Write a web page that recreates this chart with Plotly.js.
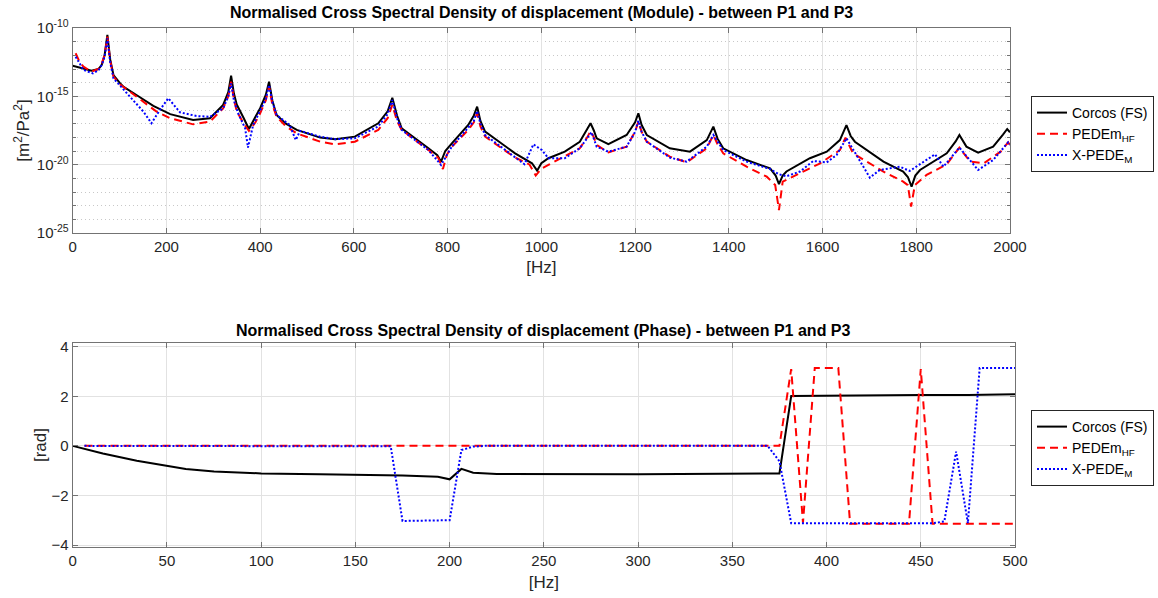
<!DOCTYPE html>
<html>
<head>
<meta charset="utf-8">
<script src="https://cdn.plot.ly/plotly-3.0.1.min.js"></script>
<style>html,body{margin:0;padding:0;background:#fff;}#chart{width:1158px;height:598px;}</style>
</head>
<body>
<div id="chart"></div>
<script>
// ---------- Module (top) : frequencies [Hz] and log10 of the CSD [m^2/Pa^2] ----------
const modCorcosHz = [0,20,40,55,62,68,74,80,87,100,108,136,172,208,236,257,293,321,332,338,344,350,365,376,390,400,412,419,426,435,455,478,528,560,602,652,672,682,692,702,759,778,786,795,809,844,856,863,870,880,944,980,991,1000,1015,1050,1082,1098,1105,1112,1118,1143,1182,1200,1207,1214,1225,1274,1317,1353,1367,1376,1388,1438,1488,1500,1507,1515,1523,1573,1609,1637,1651,1660,1669,1730,1772,1782,1790,1798,1808,1865,1884,1892,1900,1907,1932,1964,1985,1994,2000];
const modCorcosLog = [-12.76,-12.95,-13.12,-13.0,-12.7,-12.0,-10.5,-12.3,-13.44,-14.0,-14.29,-14.9,-15.7,-16.3,-16.53,-16.73,-16.6,-15.63,-14.7,-13.49,-14.8,-15.6,-16.6,-17.39,-16.5,-15.87,-14.9,-13.93,-15.3,-16.36,-17.0,-17.46,-18.02,-18.14,-17.95,-16.97,-16.1,-15.1,-16.4,-17.34,-18.8,-19.3,-19.78,-19.0,-18.44,-17.1,-16.4,-15.76,-16.8,-17.58,-19.17,-19.9,-20.44,-19.9,-19.53,-19.05,-18.32,-17.4,-16.97,-17.5,-18.07,-18.5,-17.83,-16.9,-16.24,-17.1,-17.83,-18.8,-19.05,-18.2,-17.22,-18.1,-18.8,-19.66,-20.27,-20.8,-21.43,-20.8,-20.5,-19.53,-19.05,-18.2,-17.1,-17.9,-18.32,-19.78,-20.51,-20.9,-21.61,-20.8,-20.39,-19.17,-18.3,-17.83,-18.3,-18.68,-19.12,-18.68,-17.8,-17.39,-17.63];

const modPedemHz = [6.25,15,23,40,55,62,68,74,80,87,100,136,179,208,257,293,321,332,338,344,350,365,376,390,400,412,419,426,435,455,478,528,560,602,652,672,682,692,702,759,780,790,798,809,844,856,863,870,880,944,975,988,1000,1015,1050,1082,1098,1105,1112,1118,1143,1182,1200,1207,1214,1225,1274,1310,1353,1367,1376,1388,1438,1481,1499,1507,1515,1537,1573,1595,1637,1649,1665,1694,1730,1772,1782,1789,1797,1822,1865,1892,1915,1944,1980,1996,2000];
const modPedemLog = [-11.85,-12.5,-12.83,-13.19,-13.0,-12.6,-12.0,-10.63,-12.4,-13.56,-14.1,-15.02,-16.12,-16.6,-17.05,-16.85,-15.88,-15.0,-13.93,-15.2,-16.1,-17.0,-17.53,-16.9,-16.24,-15.3,-14.29,-15.6,-16.49,-17.2,-17.71,-18.32,-18.51,-18.32,-17.46,-16.6,-15.63,-16.8,-17.46,-18.93,-19.5,-20.32,-19.3,-18.68,-17.46,-16.9,-16.24,-17.2,-17.95,-19.48,-20.0,-20.8,-20.3,-20.02,-19.41,-18.8,-18.0,-17.53,-18.0,-18.56,-19.1,-18.68,-17.6,-16.85,-17.6,-18.32,-19.41,-19.83,-18.8,-17.83,-18.5,-19.17,-20.15,-20.88,-21.49,-23.32,-21.24,-20.88,-20.27,-19.9,-18.93,-18.02,-19.17,-19.78,-20.51,-21.24,-21.5,-23.07,-21.49,-20.75,-19.97,-18.75,-19.78,-19.9,-19.05,-18.37,-18.56];

const modXpedeHz = [6.25,15,23,43,55,62,68,74,80,87,100,122,151,168,186,204,229,264,293,321,332,338,344,353,368,374,385,404,412,419,426,435,463,476,485,528,560,602,652,672,682,692,702,759,786,809,844,856,863,870,880,944,964,983,1001,1015,1050,1082,1100,1107,1113,1118,1143,1182,1200,1207,1214,1225,1274,1310,1353,1367,1388,1438,1488,1507,1523,1552,1580,1609,1630,1651,1701,1722,1765,1786,1840,1858,1892,1932,1964,1996,2000];
const modXpedeLog = [-12.1,-12.6,-13.07,-13.32,-13.1,-12.7,-12.1,-10.76,-12.5,-13.68,-14.2,-15.02,-16.12,-16.97,-16.0,-15.14,-16.17,-16.44,-16.5,-15.88,-15.0,-14.05,-15.3,-16.24,-17.34,-18.75,-17.1,-15.76,-15.2,-14.17,-15.4,-16.36,-17.1,-18.2,-17.53,-17.95,-18.14,-18.07,-17.2,-16.3,-15.27,-16.6,-17.46,-18.93,-20.02,-18.68,-17.34,-16.8,-16.07,-17.0,-17.83,-19.41,-19.97,-18.51,-18.93,-19.53,-19.53,-18.8,-18.0,-17.63,-18.2,-18.68,-19.05,-18.68,-17.6,-16.79,-17.6,-18.32,-19.48,-19.78,-18.68,-17.83,-18.93,-19.78,-20.32,-20.7,-20.85,-20.5,-19.73,-19.83,-19.29,-18.07,-20.95,-20.39,-20.15,-20.46,-19.24,-20.15,-18.75,-20.39,-19.66,-18.37,-18.56];

// ---------- Phase (bottom) : frequencies [Hz] and phase [rad] ----------
const phCorcosHz = [0,16,34,50,60,75,87,100,131,150,175,193.75,200,206.25,212.5,225,300,375,381.25,450,462.5,468.75,475,500];
const phCorcos = [0,-0.31,-0.6,-0.81,-0.93,-1.03,-1.08,-1.11,-1.15,-1.17,-1.2,-1.25,-1.35,-0.93,-1.08,-1.13,-1.14,-1.11,2.01,2.05,2.05,2.03,2.05,2.08];

const phPedemHz = [6.25,375,381.25,387.5,393.75,406.25,412.5,443.75,450,456.25,500];
const phPedem = [0,0,3.1,-3.1,3.14,3.14,-3.14,-3.14,3.1,-3.14,-3.14];

const phXpedeHz = [6.25,162.5,168.75,175,200,206.25,212.5,218.75,368.75,375,381.25,456.25,462.5,468.75,475,481.25,500];
const phXpede = [0,0,-0.02,-3.03,-3.0,-0.17,-0.03,0,0,-0.62,-3.12,-3.12,-3.05,-0.23,-3.12,3.14,3.14];

// ---------- labels ----------
const seriesNames = ['Corcos (FS)', 'PEDEm<sub>HF</sub>', 'X-PEDE<sub>M</sub>'];
const yMajorTicks = [1e-25, 1e-20, 1e-15, 1e-10];
const yMajorText = ['10<sup>-25</sup>', '10<sup>-20</sup>', '10<sup>-15</sup>', '10<sup>-10</sup>'];
const yMinorTicks = [1e-24,1e-23,1e-22,1e-21,1e-19,1e-18,1e-17,1e-16,1e-14,1e-13,1e-12,1e-11];

const toLin = a => a.map(e => Math.pow(10, e));

const styles = [
  {color: '#000000', width: 2, dash: 'solid'},
  {color: '#ff0000', width: 2, dash: '8px,5px'},
  {color: '#0000ff', width: 2, dash: '2px,2px'}
];

const traces = [
  {x: modCorcosHz, y: toLin(modCorcosLog), name: seriesNames[0], line: styles[0], xaxis: 'x', yaxis: 'y', legend: 'legend'},
  {x: modPedemHz, y: toLin(modPedemLog), name: seriesNames[1], line: styles[1], xaxis: 'x', yaxis: 'y', legend: 'legend'},
  {x: modXpedeHz, y: toLin(modXpedeLog), name: seriesNames[2], line: styles[2], xaxis: 'x', yaxis: 'y', legend: 'legend'},
  {x: phCorcosHz, y: phCorcos, name: seriesNames[0], line: styles[0], xaxis: 'x2', yaxis: 'y2', legend: 'legend2'},
  {x: phPedemHz, y: phPedem, name: seriesNames[1], line: styles[1], xaxis: 'x2', yaxis: 'y2', legend: 'legend2'},
  {x: phXpedeHz, y: phXpede, name: seriesNames[2], line: styles[2], xaxis: 'x2', yaxis: 'y2', legend: 'legend2'}
].map(t => Object.assign({type: 'scatter', mode: 'lines', hoverinfo: 'skip'}, t));

const W = 1158, H = 598;
const FAM = 'Arial, "Liberation Sans", sans-serif';
const tickFont = {family: FAM, size: 15, color: '#262626'};
const axTitleFont = {family: FAM, size: 17, color: '#262626'};
const axisCommon = {
  showline: true, linecolor: '#737373', linewidth: 1, mirror: 'ticks',
  ticks: 'inside', ticklen: 5, tickcolor: '#737373', tickwidth: 1,
  showgrid: true, gridcolor: '#e2e2e2', gridwidth: 1, zeroline: false,
  tickfont: tickFont, fixedrange: true
};
const legendCommon = {
  x: 1031 / W, xanchor: 'left', yanchor: 'top',
  bgcolor: '#ffffff', bordercolor: '#262626', borderwidth: 1,
  font: {family: FAM, size: 14, color: '#000'},
  tracegroupgap: 0, itemwidth: 30
};
const titleFont = {family: FAM, size: 16, color: '#000', weight: 'bold'};

const layout = {
  width: W, height: H,
  margin: {l: 0, r: 0, t: 0, b: 0},
  paper_bgcolor: '#ffffff', plot_bgcolor: '#ffffff',
  showlegend: true,
  xaxis: Object.assign({}, axisCommon, {
    domain: [72.7 / W, 1010 / W], range: [0, 2000], dtick: 200, tick0: 0, anchor: 'y',
    title: {text: '[Hz]', font: axTitleFont, standoff: 7}
  }),
  yaxis: Object.assign({}, axisCommon, {
    domain: [1 - 233 / H, 1 - 28 / H], type: 'log', range: [-25, -10], anchor: 'x',
    tickmode: 'array', tickvals: yMajorTicks, ticktext: yMajorText,
    minor: {tickmode: 'array', tickvals: yMinorTicks, ticks: 'inside', ticklen: 3, tickcolor: '#737373', showgrid: true, gridcolor: '#c8c8c8', griddash: '1px,3px', gridwidth: 1},
    title: {text: '[m<sup>2</sup>/Pa<sup>2</sup>]', font: axTitleFont, standoff: 2}
  }),
  xaxis2: Object.assign({}, axisCommon, {
    domain: [72.7 / W, 1015 / W], range: [0, 500], dtick: 50, tick0: 0, anchor: 'y2',
    title: {text: '[Hz]', font: axTitleFont, standoff: 8}
  }),
  yaxis2: Object.assign({}, axisCommon, {
    domain: [1 - 547 / H, 1 - 343 / H], range: [-4.08, 4.15], dtick: 2, tick0: 0, anchor: 'x2',
    title: {text: '[rad]', font: axTitleFont, standoff: 0}
  }),
  legend: Object.assign({}, legendCommon, {y: 1 - 96 / H}),
  legend2: Object.assign({}, legendCommon, {y: 1 - 410 / H}),
  annotations: [
    {text: 'Normalised Cross Spectral Density of displacement (Module) - between P1 and P3',
     xref: 'paper', yref: 'paper', x: (72.7 + 1010) / 2 / W, y: 1 - 13 / H, xanchor: 'center', yanchor: 'middle',
     showarrow: false, font: titleFont},
    {text: 'Normalised Cross Spectral Density of displacement (Phase) - between P1 and P3',
     xref: 'paper', yref: 'paper', x: (72.7 + 1015) / 2 / W, y: 1 - 330 / H, xanchor: 'center', yanchor: 'middle',
     showarrow: false, font: titleFont}
  ]
};

Plotly.newPlot('chart', traces, layout, {staticPlot: true, displayModeBar: false});
</script>
</body>
</html>
